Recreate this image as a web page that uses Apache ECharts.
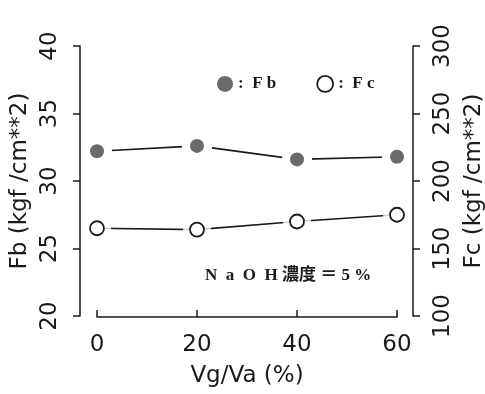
<!DOCTYPE html>
<html>
<head>
<meta charset="utf-8">
<script src="https://cdn.jsdelivr.net/npm/echarts@6/dist/echarts.min.js"></script>
<style>
  html, body { margin: 0; padding: 0; background: #fff; }
  #chart { width: 485px; height: 394px; }
</style>
</head>
<body>
<div id="chart"></div>
<script>
// values
var vgva = [0, 20, 40, 60];
var fb = [32.2, 32.6, 31.6, 31.8];
var fc = [165, 164, 170, 175];

var font = "DejaVu Sans";
var ink = "#1a1a1a";

function pairs(xs, ys) {
  return xs.map(function (x, i) { return [x, ys[i]]; });
}

var chart = echarts.init(document.getElementById("chart"));
var option = {
  animation: false,
  backgroundColor: "#fff",
  textStyle: { fontFamily: font, color: ink },
  grid: [
    { left: 80, right: 72, top: 46, bottom: 78, outerBoundsMode: "none" },
    { left: 97, width: 300, top: 260, bottom: 77, outerBoundsMode: "none" }
  ],
  legend: {
    left: 212,
    top: 70,
    itemGap: 40,
    itemWidth: 16,
    itemHeight: 16,
    icon: "circle",
    textStyle: { fontFamily: "Liberation Serif", fontWeight: "bold", fontSize: 17, color: ink },
    formatter: function (n) { return ":  " + n.split("").join(" "); },
    data: [
      { name: "Fb", itemStyle: { color: "#6a6a6a", borderWidth: 0 } },
      { name: "Fc", itemStyle: { color: "#fff", borderColor: ink, borderWidth: 1.8 } }
    ]
  },
  xAxis: [
    { gridIndex: 0, type: "value", min: -3.4, max: 63.2, show: false },
    {
      gridIndex: 1, type: "value", min: 0, max: 60, interval: 20,
      axisLine: { lineStyle: { color: ink, width: 1.5 } },
      axisTick: { inside: true, length: 7, lineStyle: { color: ink, width: 1.5 } },
      axisLabel: { fontSize: 23, color: ink, margin: 17 },
      splitLine: { show: false },
      name: "Vg/Va (%)", nameLocation: "middle", nameGap: 48,
      nameTextStyle: { fontSize: 23, color: ink }
    }
  ],
  yAxis: [
    {
      gridIndex: 0, type: "value", min: 20, max: 40, interval: 5,
      axisLine: { show: true, onZero: false, lineStyle: { color: ink, width: 1.5 } },
      axisTick: { show: true, length: 7, lineStyle: { color: ink, width: 1.5 } },
      axisLabel: { fontSize: 23, color: ink, rotate: 90, margin: 18 },
      splitLine: { show: false },
      name: "Fb (kgf /cm**2)", nameLocation: "middle", nameRotate: 90, nameGap: 48,
      nameTextStyle: { fontSize: 23, color: ink }
    },
    {
      gridIndex: 0, type: "value", min: 100, max: 300, interval: 50, position: "right",
      axisLine: { show: true, onZero: false, lineStyle: { color: ink, width: 1.5 } },
      axisTick: { show: true, length: 7, lineStyle: { color: ink, width: 1.5 } },
      axisLabel: { fontSize: 23, color: ink, rotate: 90, margin: 19 },
      splitLine: { show: false },
      name: "Fc (kgf /cm**2)", nameLocation: "middle", nameRotate: 90, nameGap: 48,
      nameTextStyle: { fontSize: 23, color: ink }
    },
    { gridIndex: 1, type: "value", show: false }
  ],
  series: [
    {
      name: "Fb", type: "line", xAxisIndex: 0, yAxisIndex: 0,
      data: pairs(vgva, fb),
      symbol: "circle", symbolSize: 22,
      itemStyle: { color: "#6a6a6a", borderColor: "#fff", borderWidth: 8 },
      lineStyle: { color: ink, width: 1.6 },
      z: 3
    },
    {
      name: "Fc", type: "line", xAxisIndex: 0, yAxisIndex: 1,
      data: pairs(vgva, fc),
      showSymbol: false,
      lineStyle: { color: ink, width: 1.6 },
      z: 2
    },
    {
      name: "Fc gap", type: "scatter", xAxisIndex: 0, yAxisIndex: 1,
      data: pairs(vgva, fc),
      symbol: "circle", symbolSize: 28,
      itemStyle: { color: "#fff" },
      z: 4, silent: true
    },
    {
      name: "Fc marks", type: "scatter", xAxisIndex: 0, yAxisIndex: 1,
      data: pairs(vgva, fc),
      symbol: "circle", symbolSize: 14,
      itemStyle: { color: "#fff", borderColor: ink, borderWidth: 1.8, opacity: 1 },
      z: 5, silent: true
    }
  ],
  graphic: [
    {
      type: "text", left: 205, top: 267,
      style: {
        text: "N  a  O  H 濃度 ＝ 5 %",
        fontFamily: "Liberation Serif, Noto Sans CJK JP",
        fontWeight: "bold", fontSize: 17, fill: ink
      }
    }
  ]
};
chart.setOption(option);
</script>
</body>
</html>
